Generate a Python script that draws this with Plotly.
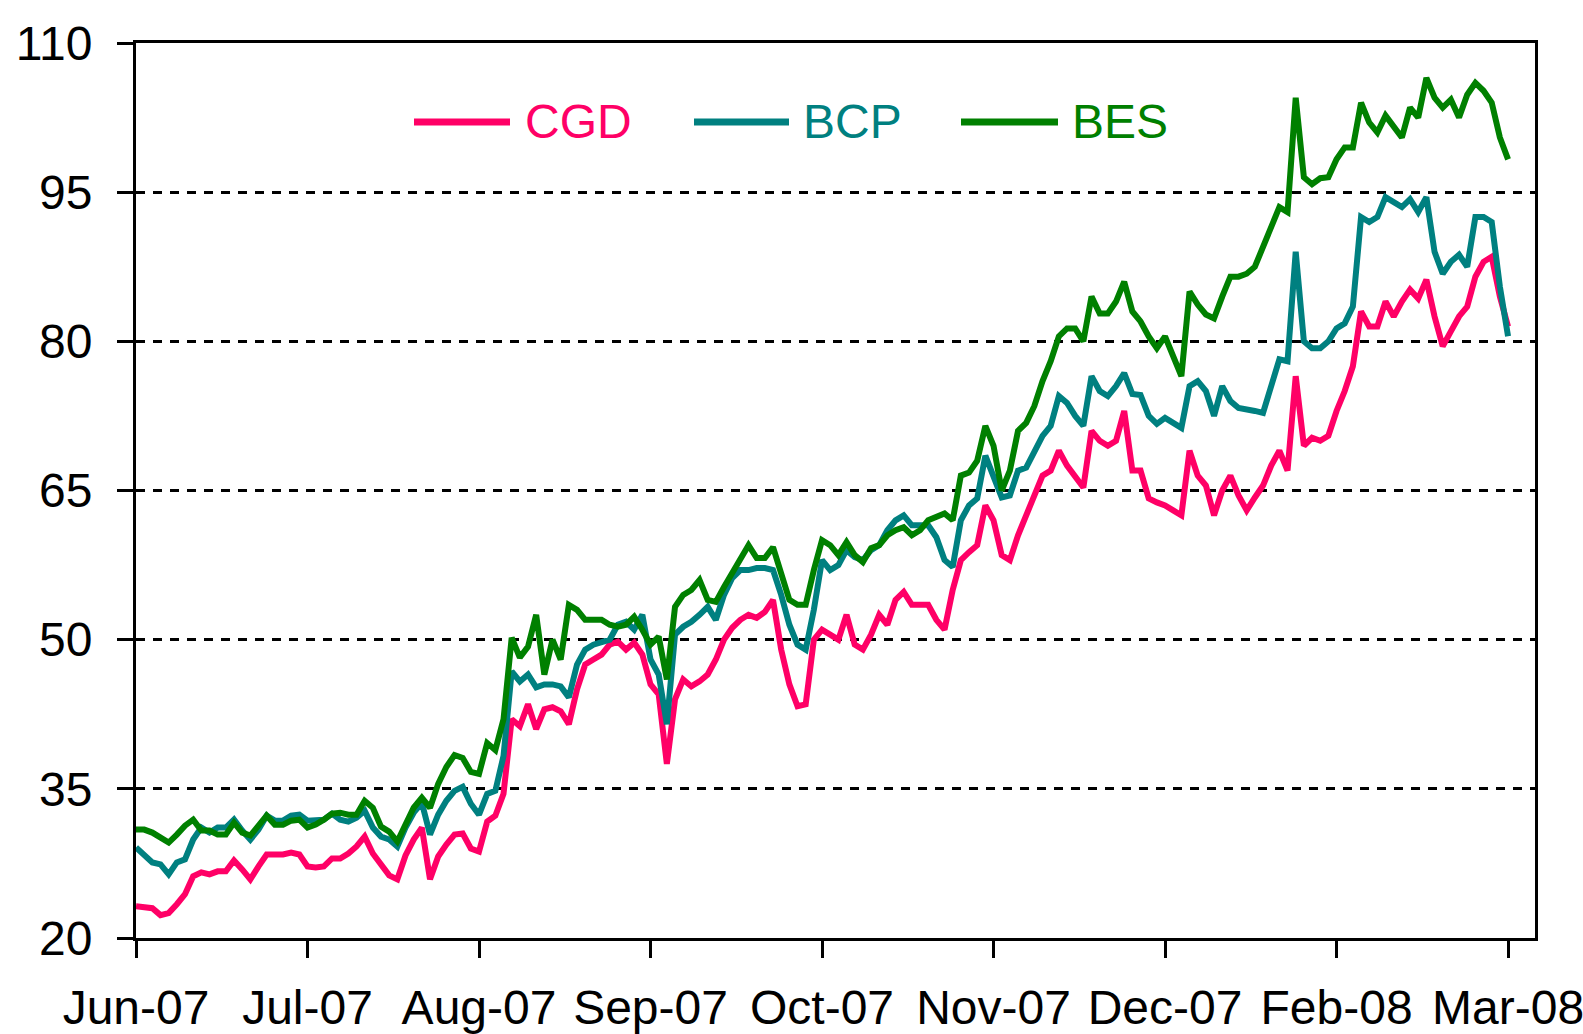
import plotly.graph_objects as go

# ---- data ----
month_labels = ["Jun-07", "Jul-07", "Aug-07", "Sep-07", "Oct-07",
                "Nov-07", "Dec-07", "Feb-08", "Mar-08"]

cgd = [
    23.2, 23.1, 23.0, 22.3, 22.5, 23.4, 24.4, 26.2, 26.6, 26.4,
    26.7, 26.7, 27.8, 26.9, 25.9, 27.2, 28.4, 28.4, 28.4, 28.6,
    28.4, 27.2, 27.1, 27.2, 28.0, 28.0, 28.5, 29.2, 30.2, 28.5,
    27.3, 26.3, 25.9, 28.3, 29.9, 31.1, 25.9, 28.2, 29.4, 30.4,
    30.5, 29.0, 28.7, 31.7, 32.3, 34.5, 42.0, 41.3, 43.5, 41.0,
    43.0, 43.2, 42.8, 41.5, 45.0, 47.5, 48.0, 48.5, 49.5, 49.8,
    49.0, 49.7, 48.5, 45.5, 44.5, 37.5, 44.0, 46.0, 45.3, 45.8,
    46.5, 48.0, 50.0, 51.2, 52.0, 52.5, 52.2, 52.8, 54.0, 49.0,
    45.5, 43.3, 43.5, 50.0, 51.0, 50.5, 50.0, 52.5, 49.5, 49.0,
    50.5, 52.5, 51.5, 54.0, 54.8, 53.5, 53.5, 53.5, 52.0, 51.0,
    55.0, 58.0, 58.8, 59.5, 63.5, 62.0, 58.5, 58.0, 60.5, 62.5,
    64.8, 66.5, 67.0, 69.0, 67.5, 66.5, 65.3, 71.0, 70.0, 69.5,
    70.0, 73.0, 67.0, 67.0, 64.2, 63.8, 63.5, 63.0, 62.5, 69.0,
    66.5, 65.5, 62.5, 65.0, 66.5, 64.5, 63.0, 64.3, 65.5, 67.5,
    69.0, 67.0, 76.5, 69.5, 70.3, 70.0, 70.5, 73.0, 75.0, 77.5,
    83.0, 81.5, 81.5, 84.0, 82.5, 84.0, 85.2, 84.3, 86.2, 82.5,
    79.5, 81.0, 82.5, 83.5, 86.5, 88.0, 88.5, 84.5, 81.5,
]

bcp = [
    29.1, 28.4, 27.6, 27.4, 26.4, 27.6, 27.9, 29.9, 31.1, 30.6,
    31.1, 31.1, 31.9, 30.8, 29.9, 30.9, 32.3, 31.8, 31.8, 32.3,
    32.4, 31.8, 31.8, 31.9, 32.5, 31.9, 31.7, 32.1, 32.8, 31.1,
    30.2, 29.9, 29.2, 31.1, 32.6, 33.6, 30.4, 32.4, 33.8, 34.8,
    35.2, 33.5, 32.4, 34.5, 34.8, 38.3, 46.8, 45.8, 46.5, 45.2,
    45.5, 45.5, 45.3, 44.2, 47.5, 49.0, 49.5, 49.8, 50.0, 51.5,
    51.8, 51.0, 52.5, 48.0, 46.5, 41.5, 50.5, 51.3, 51.8, 52.5,
    53.3, 52.0, 54.5, 56.2, 57.0, 57.0, 57.2, 57.2, 57.0, 54.5,
    51.5, 49.5, 49.0, 53.0, 58.0, 57.0, 57.5, 59.0, 58.3, 58.0,
    59.0, 59.5, 61.0, 62.0, 62.5, 61.5, 61.5, 61.5, 60.3, 58.0,
    57.3, 62.0, 63.5, 64.2, 68.5, 66.5, 64.3, 64.5, 67.0, 67.3,
    69.0, 70.5, 71.5, 74.5, 73.8, 72.5, 71.5, 76.5, 75.0, 74.5,
    75.5, 76.8, 74.7, 74.6, 72.5, 71.7, 72.3, 71.8, 71.3, 75.5,
    76.0, 75.0, 72.5, 75.5, 74.0, 73.3, 73.2, 73.0, 72.8, 75.5,
    78.2, 78.0, 89.0, 80.0, 79.3, 79.3, 80.0, 81.3, 81.8, 83.5,
    92.5, 92.0, 92.5, 94.5, 94.0, 93.5, 94.3, 93.0, 94.5, 89.0,
    86.8, 88.0, 88.7, 87.5, 92.5, 92.5, 92.0, 85.5, 80.5,
]

bes = [
    30.9, 30.9, 30.6, 30.1, 29.6, 30.4, 31.3, 31.9, 30.8, 30.8,
    30.4, 30.4, 31.6, 30.6, 30.3, 31.3, 32.3, 31.4, 31.4, 31.8,
    31.9, 31.1, 31.4, 31.9, 32.5, 32.6, 32.4, 32.4, 33.8, 33.1,
    31.2, 30.7, 29.7, 31.4, 33.1, 34.1, 33.1, 35.5, 37.2, 38.4,
    38.1, 36.7, 36.5, 39.6, 38.9, 42.0, 50.2, 48.2, 49.3, 52.5,
    46.5, 50.0, 48.0, 53.5, 53.0, 52.0, 52.0, 52.0, 51.5, 51.3,
    51.5, 52.3, 51.0, 49.5, 50.3, 46.0, 53.3, 54.5, 55.0, 56.0,
    54.0, 53.8, 55.3, 56.8, 58.0, 59.5, 58.2, 58.2, 59.3, 56.8,
    54.0, 53.5, 53.5, 57.0, 60.0, 59.5, 58.5, 59.8, 58.5, 57.8,
    59.2, 59.5, 60.5, 61.0, 61.3, 60.5, 61.0, 62.0, 62.4, 62.7,
    62.0, 66.5, 66.8, 68.0, 71.5, 69.5, 65.0, 67.0, 71.0, 71.8,
    73.5, 76.0, 78.0, 80.5, 81.3, 81.3, 80.0, 84.5, 82.8, 82.8,
    84.0, 86.0, 83.0, 82.0, 80.5, 79.3, 80.5, 78.5, 76.5, 85.0,
    83.7, 82.7, 82.3, 84.5, 86.5, 86.5, 86.8, 87.5, 89.5, 91.5,
    93.5, 93.0, 104.5, 96.5, 95.8, 96.4, 96.5, 98.3, 99.5, 99.5,
    104.0, 102.0, 101.0, 102.7, 101.5, 100.5, 103.5, 102.5, 106.5, 104.5,
    103.5, 104.3, 102.5, 104.8, 106.0, 105.2, 104.0, 100.5, 98.3,
]

y_ticks = [20, 35, 50, 65, 80, 95, 110]

# ---- styling ----
C_CGD = "#FF0066"
C_BCP = "#008080"
C_BES = "#008000"
FONT = "Liberation Sans, Arial, sans-serif"
FS = 48

W, H = 1583, 1034
PL, PR, PT, PB = 136, 1535, 43, 938   # plot area in window pixels
L, T, R, B = PL, PT, W - PR, H - PB
PW, PH = PR - PL, PB - PT

x_idx = list(range(len(cgd)))
step = 21
tick_pos = list(range(0, len(cgd), step))

fig = go.Figure()
for name, vals, col in [("CGD", cgd, C_CGD), ("BCP", bcp, C_BCP), ("BES", bes, C_BES)]:
    fig.add_trace(go.Scatter(x=x_idx, y=vals, mode="lines", name=name,
                             line=dict(color=col, width=6), showlegend=False))

def px(X):
    return (X - PL) / PW

def py(Y):
    return (PB - Y) / PH

# manual legend (long line samples like the original)
legend_items = [("CGD", C_CGD, 414, 510, 523),
                ("BCP", C_BCP, 694, 789, 801),
                ("BES", C_BES, 961, 1058, 1070)]
ly = 122
shapes = []
annotations = []
for name, col, x0, x1, xt in legend_items:
    shapes.append(dict(type="line", xref="paper", yref="paper",
                       x0=px(x0), x1=px(x1), y0=py(ly), y1=py(ly),
                       line=dict(color=col, width=7)))
    annotations.append(dict(text=name, xref="paper", yref="paper",
                            x=px(xt), y=py(ly), xanchor="left", yanchor="middle",
                            showarrow=False, font=dict(family=FONT, size=FS, color=col)))

fig.update_layout(
    width=W, height=H,
    margin=dict(l=L, r=R, t=T, b=B, pad=0, autoexpand=False),
    paper_bgcolor="white", plot_bgcolor="white",
    shapes=shapes, annotations=annotations,
    showlegend=False,
    font=dict(family=FONT, size=FS, color="black"),
)
fig.update_xaxes(
    automargin=False,
    range=[0, 171.3], tickmode="array", tickvals=tick_pos, ticktext=month_labels,
    showgrid=False, zeroline=False,
    showline=True, mirror=True, linecolor="black", linewidth=3,
    ticks="outside", ticklen=17, tickwidth=3, tickcolor="black",
    ticklabelstandoff=8, ticklabeloverflow="allow",
    tickfont=dict(family=FONT, size=FS, color="black"),
)
fig.update_yaxes(
    automargin=False,
    range=[20, 110], tickmode="array", tickvals=y_ticks,
    showgrid=True, gridcolor="black", gridwidth=2.5, griddash="9px,8px",
    zeroline=False,
    showline=True, mirror=True, linecolor="black", linewidth=3,
    ticks="outside", ticklen=16, tickwidth=3, tickcolor="black",
    ticklabelstandoff=15, ticklabeloverflow="allow",
    tickfont=dict(family=FONT, size=FS, color="black"),
)

fig.write_html(
    "out.html",
    config={"displayModeBar": False},
    post_script="document.body.style.margin='0px';document.body.style.overflow='hidden';",
)
